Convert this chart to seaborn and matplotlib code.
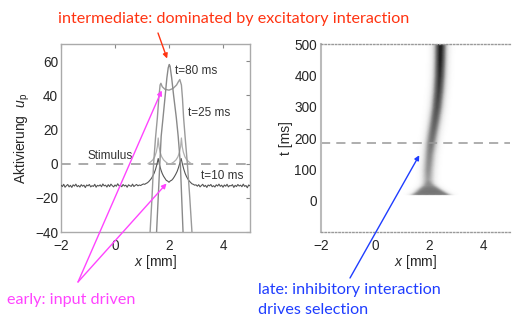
import numpy as np
import pandas as pd
import matplotlib
matplotlib.use("Agg")
import matplotlib.pyplot as plt
import seaborn as sns

# ---------------- data ----------------
# activation profile at t = 10 ms (sampled every 0.05 mm from -2 to 5)
x_t10 = np.round(np.arange(-2.0, 5.0001, 0.05), 2)
u_t10 = [
    -12.6, -13.4, -12.1, -13.8, -12.9, -12.2, -13.6, -12.7, -13.9, -12.4,
    -13.1, -12.0, -13.5, -12.8, -13.7, -12.3, -13.2, -12.6, -14.0, -12.5,
    -13.0, -12.2, -13.6, -12.9, -13.3, -12.1, -13.8, -12.7, -13.1, -12.4,
    -13.5, -11.9, -13.0, -12.6, -13.7, -12.3, -13.4, -12.0, -12.9, -13.6,
    -12.5, -13.2, -11.8, -13.0, -12.7, -13.5, -12.2, -13.1, -12.6, -13.8,
    -12.4, -12.9, -13.3, -12.0, -13.4, -12.7, -12.2, -13.0, -12.5, -12.8,
    -12.3, -11.9, -12.1, -11.6, -11.2,
    -10.5, -9.6, -8.6, -7.2, -5.6, -3.4, -0.6, 3.0, -0.8, -3.6,
    -5.8, -7.4, -8.6, -9.8, -10.2, -10.9, -10.1, -9.7, -8.8, -7.6,
    -6.2, -4.6, -2.4, 0.4, 3.0, -0.4, -3.4, -5.8, -7.6, -9.0,
    -10.2, -11.0, -11.8, -12.1, -12.6, -12.4,
    -13.2, -12.3, -13.6, -12.8, -12.1, -13.4, -12.7, -13.9, -12.5, -13.0,
    -12.2, -13.5, -12.9, -13.7, -12.4, -13.1, -12.0, -13.3, -12.6, -13.8,
    -12.5, -13.2, -12.1, -13.6, -12.8, -13.0, -12.3, -13.9, -12.7, -13.4,
    -12.2, -13.1, -12.6, -13.5, -12.0, -13.3, -12.8, -14.1, -12.5, -13.0,
]

# activation profile at t = 25 ms
x_t25 = [1.24, 1.30, 1.37, 1.43, 1.50, 1.57, 1.62, 1.67, 1.70, 1.75, 1.85,
         2.00, 2.15, 2.28, 2.35, 2.40, 2.46, 2.50, 2.54, 2.60, 2.68, 2.77,
         2.85, 2.90]
u_t25 = [-55, -40, -20, 0, 15, 27, 38, 46, 47, 45, 43.5,
         43, 44, 46, 48, 49.2, 46, 38, 27, 15, 0, -20,
         -40, -52]

# activation profile at t = 80 ms
x_t80 = [1.50, 1.54, 1.60, 1.66, 1.71, 1.78, 1.86, 1.92, 1.97, 2.01, 2.04,
         2.10, 2.17, 2.27, 2.34, 2.42, 2.47, 2.52, 2.56]
u_t80 = [-52, -40, -20, 0, 16, 27, 40, 50, 56, 58, 57,
         50, 40, 27, 16, 0, -20, -40, -52]

# stimulus: two localized inputs on top of the zero line
stim_left_x = [1.22, 1.32, 1.40, 1.47, 1.53, 1.57, 1.60, 1.63, 1.67, 1.73, 1.80, 1.88, 1.96]
stim_left_u = [0, 1.0, 2.2, 4.0, 6.8, 10, 15, 10, 6.8, 4.0, 2.2, 1.0, 0]
stim_right_x = [2.08, 2.18, 2.26, 2.33, 2.39, 2.43, 2.46, 2.49, 2.53, 2.59, 2.66, 2.74, 2.82]
stim_right_u = [0, 1.0, 2.2, 4.0, 6.8, 10, 15, 10, 6.8, 4.0, 2.2, 1.0, 0]

# space-time activation: peak location, half-width and strength over time
band_t = [18, 22, 30, 40, 50, 58, 70, 100, 150, 183, 220, 260, 300, 350, 400, 450, 500]
band_center = [2.07, 2.07, 2.05, 2.02, 2.00, 1.98, 1.97, 1.98, 2.03, 2.08, 2.15,
               2.23, 2.30, 2.36, 2.40, 2.42, 2.43]
band_halfwidth = [0.70, 0.70, 0.55, 0.40, 0.26, 0.19, 0.17, 0.17, 0.17, 0.18, 0.18,
                  0.18, 0.18, 0.18, 0.18, 0.18, 0.18]
band_strength = [0.0, 0.6, 0.62, 0.6, 0.55, 0.55, 0.5, 0.55, 0.6, 0.65, 0.7,
                 0.75, 0.8, 0.85, 0.9, 0.95, 0.97]
t_selection = 183

# ---------------- style ----------------
sns.set_style("white")
plt.rcParams["font.family"] = ["Liberation Sans", "DejaVu Sans"]
plt.rcParams["mathtext.fontset"] = "custom"
plt.rcParams["mathtext.rm"] = "Liberation Sans"
plt.rcParams["mathtext.it"] = "Liberation Sans:italic"

W, H = 517, 327
fig = plt.figure(figsize=(W / 100, H / 100), dpi=100)
fig.patch.set_facecolor("white")


def fpos(px, py):
    return (px / W, 1 - py / H)


ax1 = fig.add_axes([61 / W, 1 - 232 / H, 189 / W, 188 / H])
ax2 = fig.add_axes([321 / W, 1 - 232 / H, 189 / W, 188 / H])

# ---------------- left panel: activation profiles ----------------
ax1.axhline(0, color="#aaaaaa", lw=1.4, ls=(0, (5, 4)), zorder=1)
for sx, su in [(stim_left_x, stim_left_u), (stim_right_x, stim_right_u)]:
    sns.lineplot(x=sx, y=su, ax=ax1, color="#b0b0b0", lw=0.9, zorder=2)
sns.lineplot(x=x_t10, y=u_t10, ax=ax1, color="#555555", lw=0.8, zorder=3)
sns.lineplot(x=x_t25, y=u_t25, ax=ax1, color="#9a9a9a", lw=1.0, zorder=3)
sns.lineplot(x=x_t80, y=u_t80, ax=ax1, color="#8a8a8a", lw=1.0, zorder=3)

ax1.set_xlim(-2, 5)
ax1.set_ylim(-40, 70)
ax1.set_xticks([-2, 0, 2, 4])
ax1.set_yticks([-40, -20, 0, 20, 40, 60])
ax1.set_xticklabels(["\u22122", "0", "2", "4"])
ax1.set_yticklabels(["\u221240", "\u221220", "0", "20", "40", "60"])
ax1.tick_params(direction="in", length=3, width=0.8, color="#888888",
                labelsize=9.8, top=True, right=True, pad=2)
ax1.tick_params(axis="x", pad=5)
for s in ax1.spines.values():
    s.set_color("#aaaaaa")
    s.set_linewidth(1.0)
ax1.set_xlabel("$x$ [mm]", fontsize=10, labelpad=0)
ax1.set_ylabel("Aktivierung  $u_\\mathrm{p}$", fontsize=10, labelpad=2)

lab_kw = dict(fontsize=8.5, color="#333333", va="center", ha="left")
ax1.text(2.22, 54, "t=80 ms", **lab_kw)
ax1.text(2.70, 29.5, "t=25 ms", **lab_kw)
ax1.text(3.20, -7.5, "t=10 ms", **lab_kw)
ax1.text(-1.0, 4.3, "Stimulus", **lab_kw)

# ---------------- right panel: space-time plot ----------------
# render the band on a fine time grid, connecting the listed time points linearly
xg = np.linspace(-2, 5, 351)
tg = np.linspace(band_t[0], band_t[-1], 483)
cg = np.interp(tg, band_t, band_center)
wg = np.interp(tg, band_t, band_halfwidth)
sg = np.interp(tg, band_t, band_strength)
Z = sg[:, None] / (1 + np.exp((np.abs(xg[None, :] - cg[:, None]) - wg[:, None]) / 0.07))
ax2.pcolormesh(xg, tg, Z, shading="gouraud", cmap="Greys", vmin=0, vmax=1,
               zorder=1)
ax2.axhline(t_selection, color="#999999", lw=1.1, ls=(0, (6, 4)), zorder=2)

ax2.set_xlim(-2, 5)
ax2.set_ylim(-100, 500)
ax2.set_xticks([-2, 0, 2, 4])
ax2.set_xticklabels(["\u22122", "0", "2", "4"])
ax2.set_yticks([0, 100, 200, 300, 400, 500])
ax2.tick_params(length=0, labelsize=9.8, pad=3)
ax2.tick_params(axis="x", pad=5)
ax2.spines["right"].set_visible(False)
ax2.spines["left"].set_color("#bbbbbb")
ax2.spines["left"].set_linewidth(1.5)
for side in ("top", "bottom"):
    ax2.spines[side].set_color("#999999")
    ax2.spines[side].set_linewidth(1.0)
    ax2.spines[side].set_linestyle((0, (1, 1.5)))
ax2.set_xlabel("$x$ [mm]", fontsize=10, labelpad=0)
ax2.set_ylabel("t [ms]", fontsize=10, labelpad=1)

# ---------------- annotations ----------------
ann_font = dict(family=["Lato", "DejaVu Sans"], fontsize=11.6)
red, magenta, blue = "#ff3311", "#ff44ff", "#1f3dff"

fig.text(*fpos(58, 19), "intermediate: dominated by excitatory interaction",
         color=red, va="center", ha="left", **ann_font)
fig.text(*fpos(7, 300), "early: input driven",
         color=magenta, va="center", ha="left", **ann_font)
fig.text(*fpos(258, 290), "late: inhibitory interaction",
         color=blue, va="center", ha="left", **ann_font)
fig.text(*fpos(258, 310), "drives selection",
         color=blue, va="center", ha="left", **ann_font)


def arrow(ax, head, tail_px, color):
    ax.annotate("", xy=head, xycoords="data",
                xytext=fpos(*tail_px), textcoords="figure fraction",
                arrowprops=dict(arrowstyle="-|>", color=color, lw=1.0,
                                mutation_scale=7, shrinkA=0, shrinkB=0),
                annotation_clip=False, zorder=10)


arrow(ax1, (1.93, 61.5), (158, 33), red)
arrow(ax1, (1.73, 42.8), (78, 282), magenta)
arrow(ax1, (1.91, -11.6), (78, 282), magenta)
arrow(ax2, (1.64, 145), (350, 278), blue)

fig.savefig("out.png", dpi=100, facecolor="white")
